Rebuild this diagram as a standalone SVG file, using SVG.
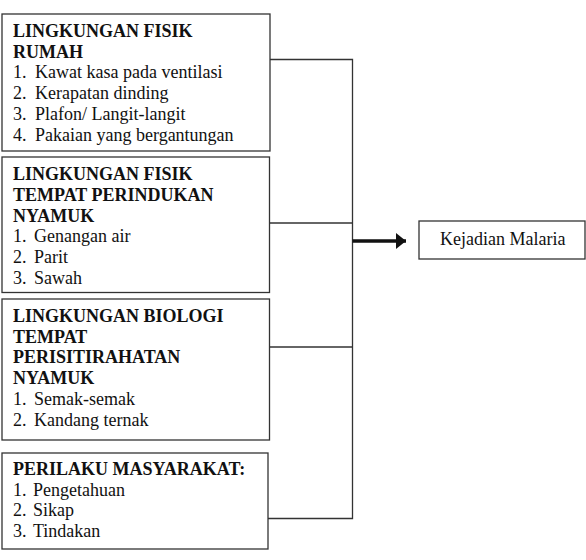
<svg xmlns="http://www.w3.org/2000/svg" width="586" height="560" viewBox="0 0 586 560">
<defs>
<style>
.box{fill:#fff;stroke:#333;stroke-width:1.3}
.t{font-family:"Liberation Serif","Times New Roman",serif;font-size:18px;fill:#111}
.b{font-weight:bold}
.c{fill:none;stroke:#333;stroke-width:1.3}
.arr{fill:none;stroke:#111;stroke-width:3.5}
</style>
<marker id="ah" markerUnits="userSpaceOnUse" markerWidth="12" markerHeight="16" refX="10" refY="8" orient="auto">
<path d="M0,0 L10,8 L0,16 Z" fill="#111"/>
</marker>
</defs>
<rect width="586" height="560" fill="#fff"/>
<g id="connectors">
<path class="c" d="M270,59.5 H352.5 V518.5 H268"/>
<path class="c" d="M269.5,223 H352.5"/>
<path class="c" d="M270,347 H352.5"/>
<path class="arr" d="M352.5,241 H406" marker-end="url(#ah)"/>
</g>
<g id="node1">
<rect class="box" x="2" y="14" width="268" height="137"/>
<text class="t b" x="13" y="37">LINGKUNGAN FISIK</text>
<text class="t b" x="13" y="57.5">RUMAH</text>
<text class="t" x="13" y="78">1.</text><text class="t" x="35" y="78">Kawat kasa pada ventilasi</text>
<text class="t" x="13" y="99">2.</text><text class="t" x="35" y="99">Kerapatan dinding</text>
<text class="t" x="13" y="119.5">3.</text><text class="t" x="35" y="119.5">Plafon/ Langit-langit</text>
<text class="t" x="13" y="140.5">4.</text><text class="t" x="35" y="140.5">Pakaian yang bergantungan</text>
</g>
<g id="node2">
<rect class="box" x="2" y="157" width="267.5" height="135.5"/>
<text class="t b" x="13" y="180">LINGKUNGAN FISIK</text>
<text class="t b" x="13" y="200.7">TEMPAT PERINDUKAN</text>
<text class="t b" x="13" y="221.5">NYAMUK</text>
<text class="t" x="13" y="242.3">1.</text><text class="t" x="34" y="242.3">Genangan air</text>
<text class="t" x="13" y="263">2.</text><text class="t" x="34" y="263">Parit</text>
<text class="t" x="13" y="283.5">3.</text><text class="t" x="34" y="283.5">Sawah</text>
</g>
<g id="node3">
<rect class="box" x="2" y="299" width="267.5" height="141"/>
<text class="t b" x="13" y="321.7">LINGKUNGAN BIOLOGI</text>
<text class="t b" x="13" y="342.7">TEMPAT</text>
<text class="t b" x="13" y="363.3">PERISITIRAHATAN</text>
<text class="t b" x="13" y="384">NYAMUK</text>
<text class="t" x="13" y="405">1.</text><text class="t" x="34" y="405">Semak-semak</text>
<text class="t" x="13" y="425.7">2.</text><text class="t" x="34" y="425.7">Kandang ternak</text>
</g>
<g id="node4">
<rect class="box" x="2" y="453" width="266" height="96"/>
<text class="t b" x="13" y="475">PERILAKU MASYARAKAT:</text>
<text class="t" x="13" y="495.5">1.</text><text class="t" x="33" y="495.5">Pengetahuan</text>
<text class="t" x="13" y="516">2.</text><text class="t" x="33" y="516">Sikap</text>
<text class="t" x="13" y="537">3.</text><text class="t" x="33" y="537">Tindakan</text>
</g>
<g id="node5">
<rect class="box" x="419" y="221" width="166" height="38"/>
<text class="t" x="440" y="244.5">Kejadian Malaria</text>
</g>
</svg>
